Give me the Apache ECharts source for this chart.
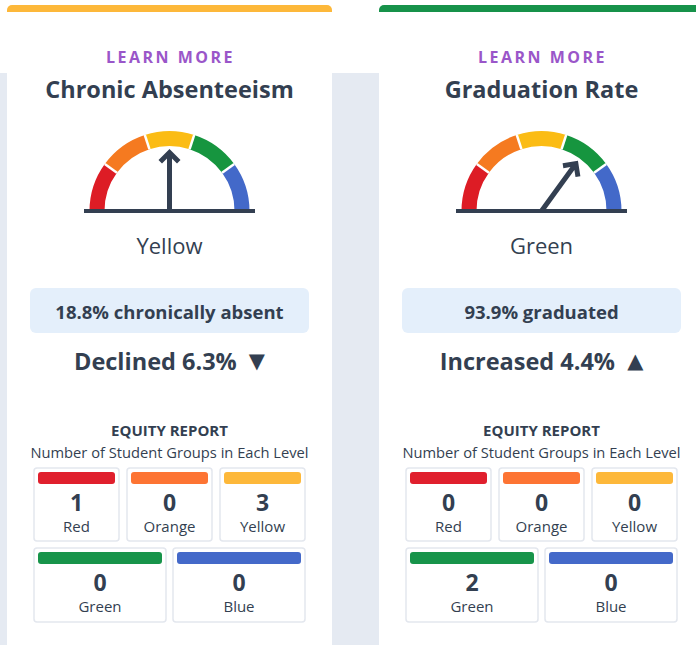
<!DOCTYPE html>
<html>
<head>
<meta charset="utf-8">
<script src="https://cdn.jsdelivr.net/npm/echarts@6/dist/echarts.min.js"></script>
<style>
html,body{margin:0;padding:0;background:#fff}
#main{width:696px;height:645px}
</style>
</head>
<body>
<div id="main"></div>
<script>
// data
var titles = ['Chronic Absenteeism', 'Graduation Rate'];
var statusNames = ['Yellow', 'Green'];
var gaugeValues = [2.5, 3.5]; // 0..5 scale, 5 levels
var rateTexts = ['18.8% chronically absent', '93.9% graduated'];
var changeTexts = ['Declined 6.3%', 'Increased 4.4%'];
var changeArrows = ['\u25BC', '\u25B2'];
var topColors = ['#fdb83a', '#17924a'];
var levelNames = ['Red', 'Orange', 'Yellow', 'Green', 'Blue'];
var levelColors = ['#e01f2d', '#fd7433', '#fdb83a', '#17944a', '#4469c9'];
var arcColors = ['#dd1c25', '#f57a20', '#fbbc14', '#16953f', '#4369c9'];
var absentCounts = [1, 0, 3, 0, 0];
var gradCounts = [0, 0, 0, 2, 0];
var counts = [absentCounts, gradCounts];

var dark = '#333f51';
var ff = '"Open Sans", "Noto Sans", sans-serif';

var chartDom = document.getElementById('main');
var myChart = echarts.init(chartDom, null, {renderer: 'svg'});

var graphics = [];
// page background
graphics.push({type: 'rect', shape: {x: 0, y: 73, width: 696, height: 572}, style: {fill: '#e5eaf2'}, z: 0});

var series = [];
for (var i = 0; i < 2; i++) {
  var ox = i * 372;
  var cx = 169.5 + ox;
  // card
  graphics.push({type: 'rect', shape: {x: 7 + ox, y: 10, width: 325, height: 640}, style: {fill: '#fff'}, z: 1});
  graphics.push({type: 'rect', shape: {x: 7 + ox, y: 5, width: 325, height: 8, r: [5, 5, 0, 0]}, style: {fill: topColors[i]}, z: 2});
  graphics.push({type: 'rect', shape: {x: 7 + ox, y: 12, width: 325, height: 4}, style: {fill: '#fff'}, z: 2});
  // headings
  graphics.push({type: 'text', z: 3, style: {text: 'LEARN MORE', x: cx + 1, y: 57, fill: '#9a56c9', font: 'bold 16px ' + ff, align: 'center', verticalAlign: 'middle'}});
  graphics.push({type: 'text', z: 3, style: {text: titles[i], x: cx, y: 89, fill: dark, font: 'bold 23.5px ' + ff, align: 'center', verticalAlign: 'middle'}});
  // gauge base line
  graphics.push({type: 'rect', shape: {x: 84 + ox, y: 209, width: 171, height: 4}, style: {fill: dark}, z: 10});
  graphics.push({type: 'text', z: 3, style: {text: statusNames[i], x: cx, y: 245, fill: dark, font: '22px ' + ff, align: 'center', verticalAlign: 'middle'}});
  // rate box
  graphics.push({type: 'rect', shape: {x: 30 + ox, y: 288, width: 279, height: 45, r: 6}, style: {fill: '#e4effb'}, z: 2});
  graphics.push({type: 'text', z: 3, style: {text: rateTexts[i], x: cx, y: 311, fill: dark, font: 'bold 18.5px ' + ff, align: 'center', verticalAlign: 'middle'}});
  graphics.push({type: 'text', z: 3, style: {
    text: changeTexts[i] + ' {tri|' + changeArrows[i] + '}',
    x: cx, y: 361, fill: dark, font: 'bold 23.5px ' + ff, align: 'center', verticalAlign: 'middle',
    rich: {tri: {font: '21px "DejaVu Sans"', fill: dark, padding: [0, 0, 1, 6]}}
  }});
  // equity report
  graphics.push({type: 'text', z: 3, style: {text: 'EQUITY REPORT', x: cx, y: 430, fill: dark, font: 'bold 15px ' + ff, align: 'center', verticalAlign: 'middle'}});
  graphics.push({type: 'text', z: 3, style: {text: 'Number of Student Groups in Each Level', x: cx, y: 452, fill: dark, font: '14.7px ' + ff, align: 'center', verticalAlign: 'middle'}});
  for (var k = 0; k < levelNames.length; k++) {
    var bx, by, bw, bh;
    if (k < 3) { bx = 34 + k * 93; by = 468; bw = 85; bh = 73; }
    else { bx = 34 + (k - 3) * 139; by = 548; bw = 132; bh = 74; }
    bx += ox;
    graphics.push({type: 'rect', shape: {x: bx, y: by, width: bw, height: bh, r: 3}, style: {fill: '#fff', stroke: '#e3e7ee', lineWidth: 1.5}, z: 2});
    graphics.push({type: 'rect', shape: {x: bx + 4, y: by + 4, width: bw - 8, height: 12, r: 3}, style: {fill: levelColors[k]}, z: 3});
    graphics.push({type: 'text', z: 3, style: {text: String(counts[i][k]), x: bx + bw / 2, y: by + 34, fill: dark, font: 'bold 23px ' + ff, align: 'center', verticalAlign: 'middle'}});
    graphics.push({type: 'text', z: 3, style: {text: levelNames[k], x: bx + bw / 2, y: by + 58, fill: dark, font: '15px ' + ff, align: 'center', verticalAlign: 'middle'}});
  }

  series.push({
    type: 'gauge',
    center: [cx, 211],
    radius: 80,
    startAngle: 180,
    endAngle: 0,
    min: 0,
    max: 5,
    splitNumber: 5,
    z: 5,
    axisLine: {
      lineStyle: {
        width: 15,
        color: arcColors.map(function (c, j) { return [(j + 1) / 5, c]; })
      }
    },
    splitLine: {show: true, length: 15, distance: -15, lineStyle: {color: '#fff', width: 2.5}},
    axisTick: {show: false},
    axisLabel: {show: false},
    pointer: {
      icon: 'path://M11 0 L22 11 L18.5 14.5 L13.5 9.5 L13.5 62 L8.5 62 L8.5 9.5 L3.5 14.5 L0 11 Z',
      length: 62,
      width: 22,
      offsetCenter: [0, 0],
      itemStyle: {color: dark}
    },
    anchor: {show: false},
    title: {show: false},
    detail: {show: false},
    data: [{value: gaugeValues[i]}]
  });
}

var option = {
  animation: false,
  backgroundColor: '#fff',
  graphic: graphics,
  series: series
};
myChart.setOption(option);

// letter spacing for the small caps link
var texts = chartDom.querySelectorAll('svg text');
for (var t = 0; t < texts.length; t++) {
  if (texts[t].textContent === 'LEARN MORE') texts[t].style.letterSpacing = '2.5px';
}
</script>
</body>
</html>
